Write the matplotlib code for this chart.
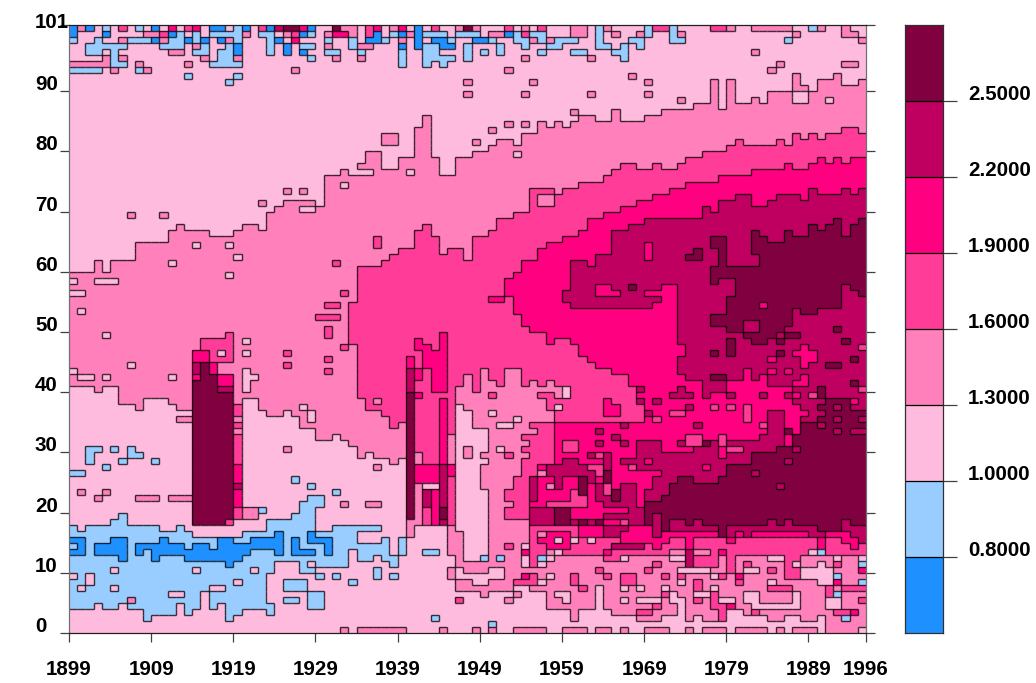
import numpy as np
import matplotlib
matplotlib.use("Agg")
import matplotlib.pyplot as plt
from matplotlib.colors import ListedColormap, BoundaryNorm
from matplotlib.collections import LineCollection
from matplotlib.transforms import ScaledTranslation

plt.rcParams['font.family'] = ['Liberation Sans', 'DejaVu Sans']
plt.rcParams['font.weight'] = 'bold'

N = 200  # band not present in that year
level_bounds = [0.8, 1.0, 1.3, 1.6, 1.9, 2.2, 2.5]
level_values = [0.7, 0.9, 1.15, 1.45, 1.75, 2.05, 2.35, 2.7]
level_colors = ['#1E90FF', '#99CCFF', '#FFBBDD', '#FF80BB', '#FF3D99', '#FF0080', '#BF0060', '#800040']
year_ticks = [1899, 1909, 1919, 1929, 1939, 1949, 1959, 1969, 1979, 1989, 1996]
age_ticks = [0, 10, 20, 30, 40, 50, 60, 70, 80, 90, 101]

# rows counted from the top (row 0 = age 100), one entry for each year 1899..1995
top3 = [41,41,41,39,41,39,39,39,36,36, 36,36,34,33,34,34,34,35,35,35, 34,33,33,34,31,30,29,29,29,29,
        30,25,25,24,25,25,25,24,24,24, 22,22,17,15,22,25,25,22,22,21, 21,20,19,19,20,18,18,16,17,16,
        17,16,15,15,16,16,14,16,16,16, 15,15,14,14,14,14,13,13,9,13, 9,13,13,12,13,11,11,11,8,10,
        11,9,9,8,10,10,9]
top4 = [N]*34 + [46,40,40,40,39,38, 37,37,34,33,35,38,37,37,39,35, 35,34,32,32,31,31,27,27,27,28,
        27,27,26,26,26,25,24,23,23,24, 24,23,24,24,23,22,22,21,21,21, 20,19,20,20,20,20,19,20,18,19,
        18,19,18,18,17,17,18]
top5 = [N]*51 + [45,45,42,41,39,39,37,36,36, 35,35,34,32,32,31,31,30,30,29, 29,28,28,27,27,26,26,26,26,25,
        25,25,25,24,24,24,24,23,24,24, 23,22,23,22,23,22,22]
top6 = [N]*60 + [44,39,39,40,38,38,34,34,33,33, 32,32,32,32,32,32,32,30,31,29, 29,28,28,30,30,29,28,28,28,29,
        27,28,28,28,27,28,27]
top7a = [N]*78 + [40,40,40,40,36,34,35,36,36,34,35,35,33,34,33,32,35,33,32]
bot7a = [N]*78 + [45,45,51,51,51,52,53,52,51,50,47,48,48,47,47,47,43,44,45]
bot6a = [N]*60 + [46,47,47,47,47,47,47,47,47,47, 47,46,46,46,53,59,59,59,59,59, 59,59,57,59,58,60,60,62,64,N,
        N,N,N,N,N,N,N]
bot5a = [N]*51 + [46,46,45,48,50,51,51,53,52, 52,53,55,56,57,57,58,58,60,62] + [N]*27
top6b = [N]*71 + [71,71,72,71,71,70,69,69,72, 69,69,69,69,68,66,64] + [N]*10
top7b = [N]*70 + [79,79,78,75,75,75,76,76,76,75, 73,73,73,71,71,71,70,70,68,66, 66,67,67,68,66,66,66]
bot7b = [N]*70 + [82,83,85,82,82,83,82,83,83,83, 83,83,83,83,83,82,83,82,83,83, 83,84,84,84,82,83,83]
bot6b = [N]*70 + [84,85,84,84,84,84,84,84,84,84, 85,84,85,84,84,84,84,84,84,84, 85,85,84,84,84,85,86]
bot5b = [N]*70 + [86,87,86,85,85,87,85,85,85,85, 86,85,85,85,85,85,85,85,85,85, 85,87,85,85,86,87,86]
bot4 = [N]*34 + [53,62,64,64,65,67, 67,67,68,68,68,68,68,60,58,61, 57,59,60,57,57,60,59,60,59,62,
        88,88,88,88,88,88,88,88,88,88, 88,88,88,87,87,87,87,87,88,88, 88,88,88,88,88,88,88,88,88,88,
        88,88,88,88,88,88,88]
bot3 = [60,60,60,60,60,60,63,63,64,62, 62,62,63,64,64,62,62,62,62,62, 63,62,62,64,65,65,65,65,67,67,
        69,69,68,69,70,72,71,72,72,73, 72,72,72,72,72,72,72,63,64,67, 72,93,93,93,93,93,94,94,97,97,
        97,98,97,97,97,97,98,98,98,99, 99,99,98,98,98,99,98,99,99,99, 99,99,98,98,98,99,99,98,98,99,
        99,98,100,100,100,100,100]
blue_top = [83,84,83,83,83,82,81,83,83,83, 83,84,84,83,84,85,85,84,85,84, 84,84,84,84,82,82,82,81,79,78,
            78,84,83,83,83,83,83,83,85,88, 85] + [N]*56
blue_end = [97,97,97,96,97,97,96,96,97,98, 98,98,98,96,98,97,94,97,96,99, 98,97,97,96,91,91,91,91,91,91,
            90,90,90,90,87,89,89,88,89,89, 88] + [0]*56

# (first row, last row, first year index, last year index, level)
top_cells = [
 (0,0,0,0,0),(0,0,1,1,3),(0,0,2,2,0),(0,0,4,4,1),(0,0,6,6,4),(0,0,8,8,1),(0,0,10,10,0),(0,0,12,12,5),
 (0,0,14,14,4),(0,0,15,15,5),(0,0,17,18,0),(0,0,20,20,1),(0,0,21,21,0),(0,0,23,23,4),(0,0,24,24,0),
 (0,0,25,25,6),(0,0,26,27,7),(0,0,28,28,5),(0,0,29,29,0),(0,0,32,32,7),(0,0,33,34,3),(0,0,36,36,4),
 (0,0,37,37,5),(0,0,39,39,3),(0,0,40,40,5),(0,0,42,42,0),(0,0,44,44,4),(0,0,47,47,3),(0,0,48,48,7),
 (0,0,49,49,3),(0,0,53,53,4),(0,0,55,55,3),(0,0,57,57,4),(0,0,61,62,3),(0,0,64,64,1),(0,0,65,65,3),
 (0,0,70,70,1),(0,0,71,72,4),(0,0,73,73,1),(0,0,78,79,4),(0,0,80,80,3),(0,0,83,87,3),(0,0,90,90,1),
 (0,0,91,91,3),(0,0,94,94,3),
 (1,1,0,0,0),(1,1,4,4,0),(1,1,9,10,3),(1,1,11,11,4),(1,1,12,12,0),(1,1,13,13,1),(1,1,15,15,1),(1,1,17,20,1),
 (1,1,21,21,3),(1,1,23,24,1),(1,1,26,26,3),(1,1,27,27,4),(1,1,28,28,0),(1,1,29,29,1),(1,1,31,31,3),
 (1,1,32,33,5),(1,1,34,34,3),(1,1,36,36,4),(1,1,37,37,0),(1,1,39,39,1),(1,1,40,40,0),(1,1,41,41,3),
 (1,1,42,42,0),(1,1,43,45,1),(1,1,47,49,1),(1,1,51,52,3),(1,1,53,53,0),(1,1,54,54,1),(1,1,55,55,4),
 (1,1,56,57,1),(1,1,61,62,3),(1,1,64,64,1),(1,1,66,66,3),(1,1,69,69,3),(1,1,70,70,1),(1,1,73,73,1),
 (1,1,74,74,3),(1,1,88,88,3),(1,1,94,95,3),
 (2,2,0,0,1),(2,2,3,3,1),(2,2,6,6,3),(2,2,7,9,1),(2,2,10,10,0),(2,2,11,11,3),(2,2,12,13,1),(2,2,14,14,0),
 (2,2,15,15,1),(2,2,16,16,0),(2,2,18,18,0),(2,2,19,19,3),(2,2,20,20,1),(2,2,24,24,1),(2,2,25,25,0),
 (2,2,27,27,5),(2,2,31,31,1),(2,2,34,34,1),(2,2,36,37,0),(2,2,38,38,1),(2,2,40,40,3),(2,2,42,42,0),
 (2,2,44,45,0),(2,2,46,46,1),(2,2,49,50,0),(2,2,51,51,1),(2,2,54,55,1),(2,2,56,56,3),(2,2,57,57,1),
 (2,2,58,58,3),(2,2,59,61,1),(2,2,64,64,1),(2,2,68,69,1),(2,2,73,74,1),(2,2,87,87,1),(2,2,96,96,3),
 (3,3,2,6,1),(3,3,11,13,1),(3,3,15,15,3),(3,3,16,16,1),(3,3,19,19,1),(3,3,20,20,0),(3,3,24,24,1),
 (3,3,26,26,0),(3,3,28,29,1),(3,3,31,31,3),(3,3,34,34,1),(3,3,35,36,3),(3,3,40,40,0),(3,3,42,42,0),
 (3,3,43,44,1),(3,3,45,46,0),(3,3,48,48,1),(3,3,52,52,1),(3,3,55,55,1),(3,3,58,59,1),(3,3,64,65,1),
 (3,3,67,67,1),(3,3,69,69,1),
 (4,4,2,3,1),(4,4,5,5,1),(4,4,12,13,3),(4,4,15,16,1),(4,4,18,19,1),(4,4,20,20,0),(4,4,24,24,1),(4,4,26,26,0),
 (4,4,28,28,0),(4,4,31,32,1),(4,4,35,35,1),(4,4,40,40,1),(4,4,43,44,1),(4,4,48,48,1),(4,4,50,50,1),
 (4,4,52,52,1),(4,4,57,57,1),(4,4,61,62,1),(4,4,66,67,1),(4,4,83,83,3),
 (5,5,4,4,3),(5,5,5,5,1),(5,5,6,6,3),(5,5,16,16,3),(5,5,18,19,1),(5,5,20,20,3),(5,5,29,29,1),(5,5,32,32,3),
 (5,5,35,35,3),(5,5,40,40,1),(5,5,43,46,1),(5,5,48,48,1),(5,5,55,55,3),(5,5,63,63,3),(5,5,67,67,1),
 (6,6,0,4,3),(6,6,5,6,1),(6,6,8,8,3),(6,6,14,14,3),(6,6,17,20,1),(6,6,40,40,1),(6,6,43,43,1),(6,6,45,45,1),
 (6,6,86,86,3),(6,6,94,95,3),
 (7,7,0,3,1),(7,7,5,5,3),(7,7,8,8,1),(7,7,9,9,3),(7,7,27,27,3),(7,7,53,53,3),(7,7,85,85,3),
 (8,8,14,14,1),(8,8,20,20,1),(8,8,68,68,3),(8,8,93,93,3),
 (9,9,19,19,1),(9,9,48,48,3),(9,9,56,56,3),(9,9,70,70,3),(9,9,92,92,3),
 (11,11,48,48,3),(11,11,55,55,3),(11,11,63,63,3),(11,11,70,70,3),(12,12,74,74,3),
 (14,14,61,61,3),(16,16,53,53,3),(16,16,55,55,3),(17,17,51,51,3),(19,19,49,49,3),
 (18,19,38,39,3),(21,23,36,37,3),(23,23,35,35,3),(26,26,33,33,2),(24,24,41,41,2),(27,27,26,26,3),(27,27,28,28,3),
 (29,29,23,23,3),(30,30,28,29,2),(31,31,7,7,3),(31,31,11,11,3),(21,21,54,54,2),(22,22,47,47,3),
 (13,13,79,79,2),(11,12,88,89,2),(12,12,92,92,2),(28,29,57,58,3),
]

left_cells = [
 (42,42,0,0,2),(42,42,3,5,2),(44,44,0,1,2),(47,47,1,1,2),(39,39,12,12,2),(36,36,15,15,2),(36,36,19,19,2),
 (38,38,20,20,2),(41,41,19,19,2),(35,36,37,37,4),(39,39,32,32,4),(44,44,33,33,4),(48,48,30,32,4),(46,46,31,32,4),
 (51,51,4,4,2),(56,56,7,7,2),(57,57,0,0,2),(58,58,1,4,2),(57,60,3,3,3),(58,58,12,12,2),(54,54,21,21,2),(52,52,21,21,2),
 (57,60,21,21,2),(58,58,22,22,2),(54,54,26,26,4),(56,56,26,26,4),(55,55,31,31,4),(57,57,31,31,4),(50,51,31,31,4),
 (53,53,33,33,4),(64,65,26,26,2),(63,63,28,28,2),(64,65,29,29,2),(62,62,37,37,3),(66,67,38,38,3),(66,67,40,40,3),
 (70,70,26,26,3),(73,73,37,37,3),(79,79,33,33,3),(79,79,36,37,3),(65,65,13,14,3),
 (70,70,2,3,1),(71,72,2,2,1),(70,70,5,5,1),(70,70,7,7,1),(71,71,7,8,1),(72,72,6,6,1),(72,72,10,10,1),(73,73,4,4,1),
 (74,74,0,1,1),(77,77,1,1,3),(77,77,4,4,3),(78,78,3,3,3),(78,78,8,10,3),(78,78,12,14,3),
 (75,75,27,27,1),(76,76,29,29,1),(77,77,32,32,1),(80,80,23,23,1),(81,81,6,6,1),
 (52,55,16,19,4),(51,51,19,19,4),(54,55,15,16,5),(54,54,18,18,2),(56,58,17,17,5),(58,59,18,19,5),(60,60,18,19,6),
 (56,82,15,16,7),(58,82,17,17,7),(61,82,18,19,7),(58,58,15,15,5),(56,57,15,15,6),(82,82,19,19,4),
 (63,64,20,20,4),(65,65,20,20,3),(66,72,20,20,4),(73,75,20,20,5),(76,76,20,20,6),(77,79,20,20,5),(80,81,20,20,4),
 (80,81,21,22,3),(67,67,20,20,3),(83,84,15,20,2),
 (55,56,41,41,5),(57,60,41,41,6),(61,81,41,41,7),(82,84,41,41,3),
 (59,72,42,44,4),(52,53,42,42,5),(53,53,43,43,5),(54,60,44,45,5),(51,53,45,45,5),(54,56,43,43,5),
 (57,58,42,42,5),(61,61,42,42,5),(62,72,45,45,5),(68,72,46,46,3),(71,72,42,42,3),(73,75,42,45,5),(73,81,45,45,6),
 (73,74,46,46,5),(75,82,46,46,4),(76,78,42,42,3),(79,82,42,42,3),(77,79,43,43,6),(80,82,43,43,4),(77,82,44,44,5),
 (76,82,45,45,6),(80,81,45,45,7),(83,87,46,46,3),(85,100,42,45,2),(83,84,42,45,2),(87,87,43,44,1),(98,98,44,44,1),
 (85,87,0,1,0),(86,86,0,0,1),(86,87,3,4,0),(85,87,5,5,0),(85,88,6,6,0),(86,87,8,8,0),(86,86,9,9,0),(86,88,10,10,0),
 (85,87,11,11,0),(86,87,12,13,0),(87,88,14,14,0),(86,88,15,16,0),(87,88,17,17,0),(85,88,18,18,0),(85,89,19,19,0),
 (86,88,20,20,0),(86,87,21,21,0),(85,86,22,24,0),(84,87,25,25,0),(85,87,27,27,0),(87,87,28,29,0),(84,85,29,29,0),
 (85,85,30,30,0),(85,87,31,31,0),(84,85,35,37,2),(80,83,30,30,2),
 (90,90,5,5,2),(90,90,15,15,2),(90,90,22,22,2),(91,91,0,0,2),(91,92,2,2,2),(93,93,1,1,2),(93,93,5,5,2),(94,94,12,13,2),
 (92,92,20,20,2),(93,93,17,18,2),(95,95,7,7,3),(96,96,7,7,1),(89,90,25,27,2),(89,89,29,29,2),
 (91,91,30,30,1),(91,91,32,32,1),(92,92,34,34,1),(90,91,37,37,1),(89,89,39,39,1),(91,91,39,39,1),(98,98,9,9,1),
 (92,93,26,28,1),(94,96,29,30,1),(95,95,26,27,1),(96,97,24,24,1),(94,96,22,23,1),
 (100,100,33,33,3),(100,100,35,40,3),(100,100,45,45,3),
]

middle_cells = [
 # fringe right of the wars
 (84,89,47,47,3),(85,87,47,48,3),(90,91,46,46,3),(90,90,48,48,3),(92,93,47,48,3),(95,95,47,47,4),(70,71,48,48,3),
 (64,64,48,48,2),(67,69,50,50,2),(70,70,49,50,2),(64,64,51,51,2),(61,61,51,51,4),(60,60,49,49,4),
 (65,65,54,54,2),(66,66,52,53,2),(70,70,52,52,2),(71,71,53,53,4),
 (73,77,48,49,2),(73,76,50,50,3),(80,87,48,50,2),
 (60,63,59,60,3),(61,61,57,58,4),(62,63,58,59,4),(63,63,59,59,2),(62,64,60,60,4),(64,65,59,63,4),
 (60,61,60,60,2),(60,60,61,61,4),(61,61,62,63,4),(62,63,63,64,4),(62,64,65,66,5),(61,62,66,67,4),(60,60,69,69,6),
 (62,62,69,69,6),(62,62,71,71,6),(64,64,69,69,4),(64,64,70,70,6),(61,61,73,73,6),(65,65,71,71,4),(63,63,70,71,5),
 # level 4 shelf and level 5 bulk
 (66,66,56,58,4),(67,69,57,58,4),(68,68,55,56,4),(69,69,56,56,4),(70,73,56,59,4),(70,70,55,55,4),
 (66,72,59,72,5),(69,70,60,61,4),(67,67,64,64,6),(66,66,67,67,6),(68,68,66,66,6),(69,69,67,67,6),(69,69,64,64,6),
 (69,71,69,71,6),(71,71,63,63,6),(71,71,64,64,4),(71,75,65,65,6),(74,75,65,66,7),(72,72,67,69,6),(73,73,69,69,6),
 (71,75,71,73,6),(73,74,70,70,6),
 # level 4 / level 6 mix
 (72,74,55,56,4),(75,79,54,56,4),(77,78,53,55,4),(80,81,53,55,4),(74,74,53,53,3),
 (73,73,57,57,5),(73,74,58,62,6),(72,72,60,61,6),(74,76,62,63,6),(75,77,62,62,7),(75,78,56,56,6),(75,79,57,57,5),
 (75,75,58,58,5),(75,76,59,59,6),(75,76,60,61,5),(77,78,58,60,5),(79,79,56,57,5),(79,79,58,61,4),(76,79,63,64,5),
 (75,76,64,64,5),(74,78,66,70,5),(73,74,66,67,5),(76,77,67,68,6),(76,78,64,64,6),(77,78,70,71,6),(78,79,65,68,6),
 (77,78,66,66,7),(80,80,66,68,5),(78,79,69,69,5),(76,76,72,72,6),(74,74,70,71,5),
 # top of the lower strips
 (80,82,56,57,6),(81,81,58,60,7),(80,82,59,60,7),(80,82,58,58,6),(82,82,61,61,6),(82,82,62,62,7),(82,82,63,63,6),(82,82,64,64,7),
 (80,81,61,64,5),(81,81,65,67,6),(80,80,65,66,5),(80,82,68,69,6),(80,82,70,70,7),(83,84,65,67,6),(83,83,67,70,5),
 (82,82,65,66,5),(83,84,62,64,5),(83,83,58,61,4),(83,83,56,57,4),(84,86,56,56,4),(85,86,57,57,4),(84,86,58,60,5),(85,85,59,59,2),
 (85,85,57,57,5),(85,86,61,65,4),(85,85,61,61,2),(85,85,63,63,2),(83,84,66,67,6),(85,85,67,67,7),(85,86,69,69,6),
 (86,86,66,68,6),(84,85,67,69,5),(87,87,65,65,5),(88,88,65,66,4),(88,88,67,67,2),(81,82,71,71,6),
 # bottom stippling, left part
 (86,86,53,53,4),(86,86,55,55,2),(87,87,55,55,5),(88,89,55,55,2),(91,91,55,55,5),(91,92,56,56,4),(92,92,54,55,4),
 (84,89,56,56,4),(87,87,57,57,4),(88,88,57,57,1),(89,89,57,57,2),(88,88,58,58,2),(87,87,59,59,2),(91,91,58,58,2),
 (92,92,57,57,2),(88,88,49,49,2),(88,88,50,50,1),(88,88,52,52,1),(89,90,48,53,3),(90,91,51,52,2),(93,93,51,51,5),
 (93,93,53,53,5),(93,93,48,53,3),(94,94,50,50,3),(94,94,54,54,3),(95,95,53,53,3),(94,96,58,58,3),(95,96,59,59,3),
 (94,94,59,60,2),(95,95,60,60,2),(91,92,61,61,4),(93,93,62,62,4),(96,98,61,61,3),(93,96,64,64,2),(90,90,64,64,4),
 (91,91,65,65,4),(93,93,67,67,2),(91,92,67,68,4),(93,93,69,69,2),(95,95,67,67,2),(95,95,69,71,2),(96,96,71,71,4),
 (97,97,69,70,4),(98,98,70,71,3),(91,91,72,72,4),(93,93,72,72,2),(94,94,72,72,4),(90,90,70,70,4),(89,89,71,71,4),
 # bottom stippling, right part
 (87,89,75,75,6),(88,88,73,74,2),(88,89,76,78,4),(87,87,79,79,5),(87,90,80,80,4),(90,90,74,77,2),(90,90,82,83,2),
 (89,89,82,82,4),(90,90,85,85,4),(88,88,85,86,2),(88,91,87,88,4),(89,89,88,88,2),(90,91,89,90,2),(87,87,90,90,2),
 (87,87,91,91,1),(89,89,91,91,2),(88,88,93,93,2),(89,89,93,93,4),(91,91,93,93,1),(92,92,93,93,5),(94,94,93,93,1),
 (88,88,96,96,2),(89,89,96,96,1),(90,90,96,96,5),(92,92,96,96,1),(93,93,94,96,4),(93,94,92,92,4),(90,92,91,92,2),
 (91,91,81,81,5),(92,92,81,81,4),(91,91,79,79,4),(91,91,78,78,2),(91,91,74,74,4),(92,92,74,74,2),(92,93,76,76,4),
 (93,93,78,78,2),(94,96,78,78,4),(94,94,76,77,2),(95,95,76,76,4),(95,95,79,80,2),(96,96,80,80,5),(96,98,79,79,4),
 (97,98,80,81,2),(94,94,72,72,4),(94,95,73,73,2),(95,96,74,74,2),(97,97,74,74,2),(97,97,83,83,4),(96,96,83,87,2),
 (92,92,85,85,2),(93,93,85,86,4),(93,93,87,87,4),(94,96,88,88,2),(95,96,92,93,2),(97,97,93,95,4),(97,97,95,95,5),
 (95,95,96,96,4),(98,98,94,94,1),(94,95,82,83,2),(99,99,51,51,1),
 (100,100,49,49,3),(100,100,51,51,3),(100,100,54,57,3),(100,100,60,62,3),(100,100,64,65,3),(100,100,67,67,3),
 (100,100,70,72,3),(100,100,75,75,3),(100,100,77,79,3),(100,100,81,84,3),(100,100,86,86,3),(100,100,88,90,3),
 (100,100,92,95,3),
 # bumps and spots on the dark surfaces
 (83,84,79,79,7),(74,74,83,83,6),(76,76,86,86,6),(73,73,77,77,5),(53,54,74,74,5),(55,57,74,74,6),
 (58,58,78,79,7),(59,61,77,77,6),(59,60,78,79,6),(61,61,73,73,6),(60,61,74,74,6),(61,61,75,75,6),(61,61,80,80,6),
 (61,61,84,84,6),(63,63,75,75,6),(64,64,73,74,4),(63,63,78,78,4),(63,63,80,80,4),(63,65,82,82,4),(66,66,76,76,6),
 (66,66,84,84,4),(64,66,85,85,6),(69,69,74,74,6),(68,69,75,76,4),(68,69,79,79,4),(70,70,80,81,4),(69,69,77,77,7),
 (52,54,80,80,7),(54,54,78,78,7),(52,52,86,86,7),(54,54,86,86,7),(51,51,87,88,7),(51,51,82,83,7),(52,52,83,84,7),
 (50,50,93,93,7),(52,52,94,94,7),(53,56,89,89,5),(54,54,88,90,5),(55,55,90,90,5),(55,55,85,85,5),(56,56,92,93,7),
 (55,55,95,95,7),(53,53,96,96,4),(57,57,85,85,5),(57,57,87,87,5),(58,59,89,89,5),(59,59,88,88,5),(60,60,87,87,5),
 (61,61,88,88,5),(61,61,90,90,4),(59,59,95,95,7),(60,60,96,96,4),(62,62,95,95,5),(63,63,88,88,5),(64,64,89,89,5),
 (60,61,91,91,7),(62,66,92,94,7),(63,63,91,91,7),(64,65,95,96,7),(65,65,91,92,7),(63,63,93,93,6),(65,65,93,93,6),
 (65,65,96,96,6),(67,67,87,87,7),(67,67,95,96,6),(70,70,88,88,6),(72,72,87,87,6),(75,75,90,90,7),
 (36,37,76,77,6),(38,38,75,76,7),(37,37,76,76,7),(35,36,78,79,7),(37,39,79,79,7),(42,44,79,80,6),
 (38,39,82,83,6),(36,37,80,82,6),(41,41,82,82,7),(42,42,84,84,7),(43,44,77,78,6),(48,49,78,79,7),
 (45,47,80,81,7),(39,39,68,69,6),(36,38,70,70,5),(39,39,74,74,6),(43,44,64,65,5),(43,43,68,68,7),(44,44,70,71,5),
 (43,45,72,73,5),(47,47,73,73,5),(44,44,66,66,5),(49,50,82,83,6),(46,46,84,84,5),
]

n_cols, n_rows = len(top3), 101
columns = [top3, top4, top5, top6, top7a, bot7a, bot6a, bot5a, top6b, top7b, bot7b, bot6b, bot5b, bot4, bot3]
column_levels = [3, 4, 5, 6, 7, 6, 5, 4, 6, 7, 6, 5, 4, 3, 2]

grid = np.full((n_rows, n_cols), 2, dtype=int)
rows = np.arange(n_rows)[:, None]
for arr, lev in zip(columns, column_levels):
    grid = np.where(rows >= np.array(arr)[None, :], lev, grid)
grid = np.where((rows >= np.array(blue_top)[None, :]) & (rows < np.array(blue_end)[None, :]), 1, grid)
for r0, r1, c0, c1, lev in top_cells + left_cells + middle_cells:
    grid[r0:r1 + 1, c0:c1 + 1] = lev
Z = np.array(level_values)[grid][::-1]   # age 0 at the bottom

fig = plt.figure(figsize=(10.36, 6.83), dpi=100)
W, H = 1036.0, 683.0
ax = fig.add_axes([69 / W, 1 - 633 / H, 797 / W, 608 / H])
cmap = ListedColormap(level_colors)
norm = BoundaryNorm([0.5] + level_bounds + [3.0], cmap.N)
xe = np.arange(n_cols + 1) + 1899
ye = np.arange(n_rows + 1)
ax.pcolormesh(xe, ye, Z, cmap=cmap, norm=norm, linewidth=0, rasterized=True)

segs = []
for i in range(n_rows):
    for j in range(n_cols):
        if j + 1 < n_cols and Z[i, j] != Z[i, j + 1]:
            segs.append([(xe[j + 1], ye[i]), (xe[j + 1], ye[i + 1])])
        if i + 1 < n_rows and Z[i, j] != Z[i + 1, j]:
            segs.append([(xe[j], ye[i + 1]), (xe[j + 1], ye[i + 1])])
ax.add_collection(LineCollection(segs, colors='black', linewidths=1.0, alpha=0.75, capstyle='butt'))

ax.set_xlim(1899, 1996)
ax.set_ylim(0, 101)
for s in ax.spines.values():
    s.set_linewidth(0.9)
    s.set_color('#202020')
ax.spines['left'].set_color('#707070')
ax.spines['right'].set_color('#707070')
ax.set_xticks(year_ticks)
ax.set_xticklabels([str(y) for y in year_ticks], fontsize=14.8, fontweight='bold')
ax.set_yticks(age_ticks)
ax.set_yticklabels([str(a) for a in age_ticks], fontsize=14.8, fontweight='bold', va='center', ha='left')
ax.tick_params(axis='x', length=6.5, width=0.9, pad=13, color='#404040')
ax.tick_params(axis='y', length=6.5, width=0.9, pad=18, color='#404040', right=True)
for a, lab in zip(age_ticks, ax.get_yticklabels()):
    up = 2 if a == 101 else 6.5
    lab.set_transform(lab.get_transform() + ScaledTranslation(0, up / 100, fig.dpi_scale_trans))

cax = fig.add_axes([905 / W, 1 - 633 / H, 38 / W, 608 / H])
for k, col in enumerate(level_colors):
    cax.axhspan(k, k + 1, color=col, linewidth=0)
    if k:
        cax.axhline(k, color='black', lw=0.9)
cax.set_xlim(0, 1)
cax.set_ylim(0, len(level_colors))
cax.set_xticks([])
cax.yaxis.tick_right()
cax.set_yticks(range(1, len(level_colors)))
cax.set_yticklabels(['%.4f' % b for b in level_bounds], fontsize=14.8, fontweight='bold', va='center')
cax.tick_params(axis='y', length=10, width=0.9, pad=8, color='#404040')
for lab in cax.get_yticklabels():
    lab.set_transform(lab.get_transform() + ScaledTranslation(0, 6.5 / 100, fig.dpi_scale_trans))
for s in cax.spines.values():
    s.set_linewidth(0.9)
    s.set_color('#303030')

fig.savefig('out.png', dpi=100)
